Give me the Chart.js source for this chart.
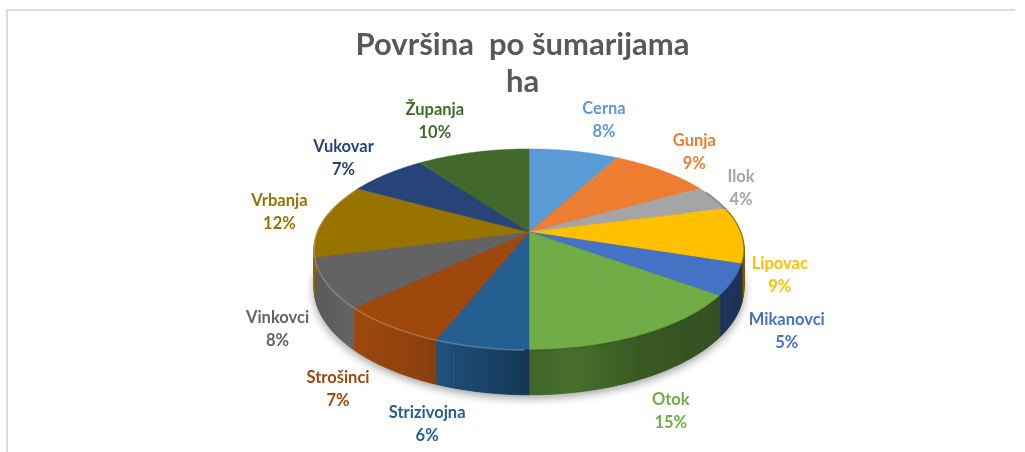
<!DOCTYPE html>
<html>
<head>
<meta charset="utf-8">
<script src="https://cdn.jsdelivr.net/npm/chart.js@4"></script>
<style>
  html, body { margin: 0; padding: 0; background: #fff; }
  #wrap { position: relative; width: 1025px; height: 452px; overflow: hidden; }
  #frame { position: absolute; left: 6px; top: 9px; width: 1007px; height: 460px; border-top: 2px solid #dcdcdc; border-left: 2px solid #dcdcdc; }
  canvas { position: absolute; left: 0; top: 0; }
</style>
</head>
<body>
<div id="wrap">
  <div id="frame"></div>
  <canvas id="pie" width="1025" height="452"></canvas>
</div>
<script>
const categories = ['Cerna', 'Gunja', 'Ilok', 'Lipovac', 'Mikanovci', 'Otok', 'Strizivojna', 'Strošinci', 'Vinkovci', 'Vrbanja', 'Vukovar', 'Županja'];
const shares = [8, 9, 4, 9, 5, 15, 6, 7, 8, 12, 7, 10];
const colors = ['#5b9bd5', '#ed7d31', '#a5a5a5', '#ffc000', '#4472c4', '#70ad47', '#255e91', '#9e480e', '#636363', '#997300', '#264478', '#43682b'];
const titleLines = ['Površina  po šumarijama', 'ha'];

// label offset from the rim point at the middle of the slice
const labelNudge = [[30, -31], [32, -18], [27, -10], [38, 40], [53, 51], [28, 76], [-54, 77], [-52, 63], [-49, 46], [-44, -8], [-43, -16], [-38, -31]];

// perspective disc
const CX = 529, CY = 232, RX = 211.7, RY = 97.5, PERSP = 0.174, DEPTH = 37;

function project(theta, drop) {
  const u = Math.sin(theta), v = Math.cos(theta);
  const den = 1 + PERSP * v;
  return { x: CX + RX * u / den, y: CY - RY * v / den + (drop ? DEPTH / den : 0) };
}

// wall brightness by screen x, lit from the left
const shadeStops = [[315, 0.92], [350, 1.02], [430, 0.88], [529, 0.58], [575, 0.64], [640, 0.52], [745, 0.45]];
function shadeAt(x) {
  for (let i = 1; i < shadeStops.length; i++) {
    if (x <= shadeStops[i][0]) {
      const a = shadeStops[i - 1], b = shadeStops[i];
      const t = Math.max(0, (x - a[0]) / (b[0] - a[0]));
      return a[1] + (b[1] - a[1]) * t;
    }
  }
  return shadeStops[shadeStops.length - 1][1];
}

function shadeColor(hex, f) {
  const n = parseInt(hex.slice(1), 16);
  const c = [n >> 16, (n >> 8) & 255, n & 255].map(v => Math.min(255, Math.round(v * f)));
  return `rgb(${c[0]},${c[1]},${c[2]})`;
}

const pie3d = {
  id: 'pie3d',
  beforeDatasetsDraw(chart) {
    const ctx = chart.ctx;
    const arcs = chart.getDatasetMeta(0).data;
    const step = Math.PI / 180;

    // soft shadow under the disc
    ctx.save();
    ctx.shadowColor = 'rgba(0,0,0,0.4)';
    ctx.shadowBlur = 10;
    ctx.shadowOffsetY = 3;
    ctx.fillStyle = '#555';
    ctx.beginPath();
    for (let a = 0; a < Math.PI * 2; a += step) {
      const p = project(a, true);
      ctx.lineTo(p.x, p.y);
    }
    ctx.closePath();
    ctx.fill();
    ctx.restore();

    // walls
    arcs.forEach((arc, i) => {
      const from = arc.startAngle + Math.PI / 2, to = arc.endAngle + Math.PI / 2;
      for (let a = from; a < to - 1e-6; a += step) {
        const b = Math.min(a + step, to);
        if (Math.cos(a) > 0.2 && Math.cos(b) > 0.2) continue;
        const p1 = project(a), p2 = project(b), q1 = project(a, true), q2 = project(b, true);
        const col = shadeColor(colors[i], shadeAt((p1.x + p2.x) / 2));
        ctx.fillStyle = col;
        ctx.strokeStyle = col;
        ctx.lineWidth = 0.6;
        ctx.beginPath();
        ctx.moveTo(p1.x, p1.y);
        ctx.lineTo(p2.x, p2.y);
        ctx.lineTo(q2.x, q2.y);
        ctx.lineTo(q1.x, q1.y);
        ctx.closePath();
        ctx.fill();
        ctx.stroke();
      }
    });

    // top faces
    arcs.forEach((arc, i) => {
      const from = arc.startAngle + Math.PI / 2, to = arc.endAngle + Math.PI / 2;
      ctx.fillStyle = colors[i];
      ctx.strokeStyle = colors[i];
      ctx.lineWidth = 0.5;
      ctx.beginPath();
      ctx.moveTo(CX, CY);
      for (let a = from; a < to; a += step) {
        const p = project(a);
        ctx.lineTo(p.x, p.y);
      }
      const e = project(to);
      ctx.lineTo(e.x, e.y);
      ctx.closePath();
      ctx.fill();
      ctx.stroke();
    });

    // bevel along the rim: pale on the left, dark on the right
    ctx.lineWidth = 1.6;
    for (let a = 0; a < Math.PI * 2; a += step) {
      if (Math.cos(a) > 0.45) continue;
      const p1 = project(a), p2 = project(a + step);
      ctx.strokeStyle = p1.x < CX ? 'rgba(255,255,255,0.22)' : 'rgba(0,0,0,0.28)';
      ctx.beginPath();
      ctx.moveTo(p1.x, p1.y);
      ctx.lineTo(p2.x, p2.y);
      ctx.stroke();
    }
    return false;
  },
  afterDraw(chart) {
    const ctx = chart.ctx;
    const arcs = chart.getDatasetMeta(0).data;
    const total = shares.reduce((s, v) => s + v, 0);
    ctx.save();
    ctx.font = 'bold 16.5px Lato';
    ctx.textAlign = 'center';
    ctx.textBaseline = 'middle';
    arcs.forEach((arc, i) => {
      const mid = (arc.startAngle + arc.endAngle) / 2 + Math.PI / 2;
      const p = project(mid);
      const x = p.x + labelNudge[i][0], y = p.y + labelNudge[i][1];
      ctx.fillStyle = colors[i];
      ctx.fillText(categories[i], x, y - 11.5);
      ctx.fillText(Math.round(shares[i] / total * 100) + '%', x, y + 11.5);
    });
    ctx.restore();
  }
};

new Chart(document.getElementById('pie'), {
  type: 'pie',
  data: {
    labels: categories,
    datasets: [{ data: shares, backgroundColor: colors, borderWidth: 0 }]
  },
  options: {
    responsive: false,
    animation: false,
    layout: { padding: { left: 20 } },
    plugins: {
      legend: { display: false },
      tooltip: { enabled: false },
      title: {
        display: true,
        text: titleLines,
        color: '#595959',
        font: { family: 'Lato', size: 31, weight: 'bold', lineHeight: 1.18 },
        padding: { top: 27, bottom: 0 }
      }
    }
  },
  plugins: [pie3d]
});
</script>
</body>
</html>
